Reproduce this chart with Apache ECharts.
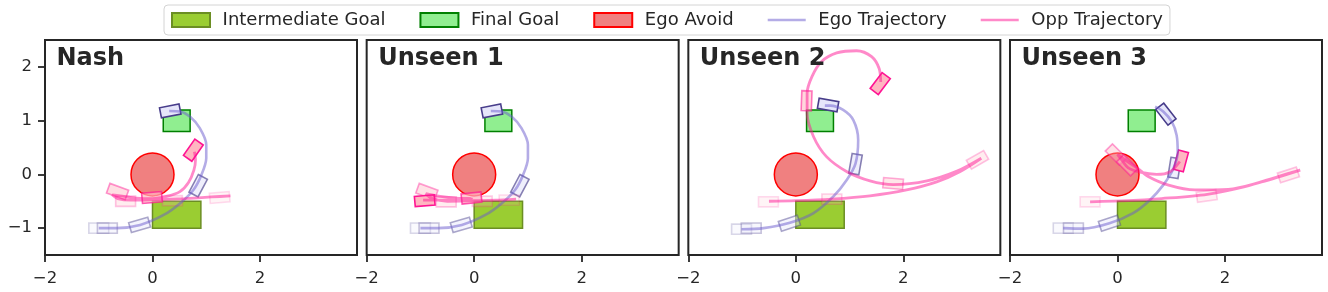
<!DOCTYPE html>
<html>
<head>
<meta charset="utf-8">
<script src="https://cdn.jsdelivr.net/npm/echarts@6/dist/echarts.min.js"></script>
<style>
html,body{margin:0;padding:0;background:#fff;}
#chart{width:1328px;height:292px;}
</style>
</head>
<body>
<div id="chart"></div>
<script>
// ---------------- data ----------------
const panelTitles = ['Nash', 'Unseen 1', 'Unseen 2', 'Unseen 3'];
const xTicks = [-2, 0, 2];
const yTicks = [-1, 0, 1, 2];
const xMin = -2, yMin = -1.5, yMax = 2.5;

// [x0, y0, x1, y1]
const intermediateGoal = [0, -1, 0.9, -0.5];
const finalGoal = [0.2, 0.8, 0.7, 1.2];
// [cx, cy, r]
const egoAvoid = [0, 0, 0.4];

// trajectories [x, y]
const egoPathNash = [[-1.0,-1.0],[-0.67,-1.0],[-0.23,-0.94],[0.2,-0.76],[0.51,-0.54],[0.76,-0.29],[0.91,-0.01],[1.0,0.3],[1.0,0.55],[0.88,0.86],[0.7,1.07],[0.51,1.17],[0.31,1.18]];
const egoPathU1 = [[-1.0,-1.0],[-0.67,-1.0],[-0.23,-0.94],[0.2,-0.76],[0.51,-0.54],[0.76,-0.29],[0.91,-0.01],[1.0,0.3],[1.0,0.55],[0.88,0.86],[0.7,1.07],[0.51,1.17],[0.31,1.18]];
const egoPathU2 = [[-1.01,-1.02],[-0.6,-1.0],[-0.11,-0.9],[0.33,-0.72],[0.7,-0.41],[0.95,-0.1],[1.11,0.2],[1.16,0.64],[1.07,1.01],[0.88,1.2],[0.64,1.28],[0.54,1.28]];
const egoPathU3 = [[-1.01,-1.0],[-0.64,-1.01],[-0.15,-0.91],[0.29,-0.72],[0.6,-0.48],[0.85,-0.2],[1.04,0.11],[1.12,0.42],[1.1,0.73],[1.01,0.98],[0.85,1.17],[0.7,1.26]];

const oppPathNash = [[1.45,-0.40],[1.1,-0.42],[0.6,-0.45],[0.1,-0.47],[-0.4,-0.48],[-0.65,-0.45],[-0.75,-0.38],[-0.6,-0.40],[-0.3,-0.44],[0.0,-0.45],[0.26,-0.41],[0.51,-0.32],[0.67,-0.15],[0.77,0.08],[0.8,0.27],[0.78,0.42]];
const oppPathU1 = [[0.78,-0.46],[0.4,-0.48],[0.0,-0.49],[-0.5,-0.5],[-0.8,-0.44],[-0.9,-0.36],[-0.7,-0.40],[-0.35,-0.44],[-0.05,-0.45],[-0.4,-0.47],[-0.7,-0.48],[-0.95,-0.48]];
const oppPathU2 = [[-0.5,-0.5],[0.0,-0.49],[0.67,-0.46],[1.38,-0.40],[2.06,-0.29],[2.62,-0.14],[3.05,0.05],[3.45,0.3],[3.0,0.06],[2.44,-0.12],[1.81,-0.19],[1.38,-0.12],[0.95,0.05],[0.57,0.33],[0.33,0.7],[0.21,1.14],[0.21,1.51],[0.3,1.82],[0.48,2.1],[0.76,2.26],[1.13,2.3],[1.41,2.19],[1.55,1.97],[1.58,1.72]];
const oppPathU3 = [[-0.51,-0.51],[0.2,-0.49],[0.82,-0.45],[1.67,-0.37],[2.37,-0.23],[2.99,-0.04],[3.4,0.08],[2.68,-0.14],[2.06,-0.28],[1.44,-0.29],[0.95,-0.2],[0.57,-0.04],[0.39,0.1],[0.2,0.23],[0.0,0.37],[0.1,0.24],[0.2,0.12],[0.42,0.04],[0.73,0.0],[0.98,0.05],[1.16,0.24]];

// car snapshots [x, y, headingDeg, alpha]
const egoCarsNash = [[-1.0,-1.0,0,0.2],[-0.84,-1.0,0,0.3],[-0.24,-0.94,16,0.45],[0.85,-0.21,62,0.65],[0.33,1.18,11,1.0]];
const egoCarsU1 = [[-1.0,-1.0,0,0.2],[-0.84,-1.0,0,0.3],[-0.24,-0.94,16,0.45],[0.85,-0.21,62,0.65],[0.33,1.18,11,1.0]];
const egoCarsU2 = [[-1.01,-1.02,0,0.2],[-0.83,-1.0,0,0.3],[-0.12,-0.91,18,0.45],[1.11,0.19,80,0.65],[0.6,1.29,-10,1.0]];
const egoCarsU3 = [[-1.01,-1.0,0,0.2],[-0.82,-1.0,0,0.3],[-0.15,-0.91,18,0.45],[1.06,0.12,81,0.65],[0.9,1.12,128,1.0]];

const oppCarsNash = [[1.25,-0.43,5,0.15],[0.37,-0.49,0,0.2],[-0.5,-0.5,0,0.25],[-0.65,-0.32,-20,0.45],[-0.01,-0.43,5,0.7],[0.76,0.45,55,1.0]];
const oppCarsU1 = [[0.65,-0.48,0,0.15],[0.15,-0.5,0,0.2],[-0.52,-0.51,0,0.25],[-0.88,-0.32,-20,0.4],[-0.05,-0.44,6,0.7],[-0.92,-0.49,5,1.0]];
const oppCarsU2 = [[-0.51,-0.51,0,0.15],[0.67,-0.46,0,0.2],[3.38,0.27,30,0.25],[1.81,-0.17,-5,0.35],[0.2,1.37,88,0.55],[1.57,1.69,53,1.0]];
const oppCarsU3 = [[-0.51,-0.51,0,0.15],[1.66,-0.4,8,0.2],[3.18,-0.01,18,0.25],[-0.03,0.37,-45,0.4],[0.18,0.17,-45,0.5],[1.18,0.25,75,1.0]];

const egoPaths = [egoPathNash, egoPathU1, egoPathU2, egoPathU3];
const oppPaths = [oppPathNash, oppPathU1, oppPathU2, oppPathU3];
const egoCars = [egoCarsNash, egoCarsU1, egoCarsU2, egoCarsU3];
const oppCars = [oppCarsNash, oppCarsU1, oppCarsU2, oppCarsU3];

// ---------------- layout / style ----------------
const FONT = 'DejaVu Sans';
const INK = '#262626';
const gridLefts = [45, 366.67, 688.33, 1010];
const gridTop = 40, gridW = 312, gridH = 215;
const xMax = xMin + gridW / (gridH / (yMax - yMin));
const CAR_L = 0.37, CAR_W = 0.19;
const LINE_ICON = 'path://M0,0H38V2.6H0Z';

const C = {
  inter: {fill: '#9acd32', edge: '#6b8e23'},
  final: {fill: '#90ee90', edge: '#008000'},
  avoid: {fill: '#f08080', edge: '#ff0000'},
  egoLine: 'rgba(106,90,205,0.5)',
  oppLine: 'rgba(255,20,147,0.5)',
  egoCar: {fill: '#e6e6fa', edge: '#483d8b'},
  oppCar: {fill: '#ffb6c1', edge: '#ff1493'}
};

function fmt(v) { return v < 0 ? '\u2212' + Math.abs(v) : String(v); }

function rectRender(col) {
  return function (params, api) {
    const a = api.coord([api.value(0), api.value(3)]);
    const b = api.coord([api.value(2), api.value(1)]);
    return {type: 'rect', shape: {x: a[0], y: a[1], width: b[0] - a[0], height: b[1] - a[1]},
      style: {fill: col.fill, stroke: col.edge, lineWidth: 1.5}};
  };
}
function circleRender(col) {
  return function (params, api) {
    const c = api.coord([api.value(0), api.value(1)]);
    const r = api.size([api.value(2), 0])[0];
    return {type: 'circle', shape: {cx: c[0], cy: c[1], r: r},
      style: {fill: col.fill, stroke: col.edge, lineWidth: 1.5}};
  };
}
function carRender(col) {
  return function (params, api) {
    const cx = api.value(0), cy = api.value(1), ang = api.value(2) * Math.PI / 180, al = api.value(3);
    const dx = Math.cos(ang), dy = Math.sin(ang), hl = CAR_L / 2, hw = CAR_W / 2;
    const pts = [[hl, hw], [hl, -hw], [-hl, -hw], [-hl, hw]].map(function (q) {
      return api.coord([cx + q[0] * dx - q[1] * dy, cy + q[0] * dy + q[1] * dx]);
    });
    return {type: 'polygon', shape: {points: pts},
      style: {fill: col.fill, stroke: col.edge, lineWidth: 1.6, opacity: al}};
  };
}

const grids = [], xAxes = [], yAxes = [], titles = [], series = [];
for (let p = 0; p < 4; p++) {
  grids.push({left: gridLefts[p], top: gridTop, width: gridW, height: gridH, show: true,
    borderColor: INK, borderWidth: 2, backgroundColor: 'transparent', containLabel: false});
  xAxes.push({type: 'value', gridIndex: p, min: xMin, max: xMax, position: 'bottom',
    axisLine: {show: false, onZero: false}, splitLine: {show: false},
    axisTick: {show: true, length: 7, customValues: xTicks, lineStyle: {color: INK, width: 1.8}},
    axisLabel: {show: true, customValues: xTicks, formatter: fmt, fontSize: 16.5, fontFamily: FONT, color: INK, margin: 15}});
  yAxes.push({type: 'value', gridIndex: p, min: yMin, max: yMax, position: 'left',
    axisLine: {show: false, onZero: false}, splitLine: {show: false},
    axisTick: {show: p === 0, length: 7, customValues: yTicks, lineStyle: {color: INK, width: 1.8}},
    axisLabel: {show: p === 0, customValues: yTicks, formatter: fmt, fontSize: 16.5, fontFamily: FONT, color: INK, margin: 13}});
  titles.push({text: panelTitles[p], left: gridLefts[p] + 11.5, top: 47, padding: 0,
    textStyle: {fontSize: 24, fontWeight: 'bold', fontFamily: FONT, color: INK}});

  const ax = {xAxisIndex: p, yAxisIndex: p, silent: true, animation: false};
  series.push(Object.assign({type: 'custom', name: 'Intermediate Goal', z: 1, data: [intermediateGoal],
    encode: {x: [0, 2], y: [1, 3]}, renderItem: rectRender(C.inter),
    itemStyle: {color: C.inter.fill, borderColor: C.inter.edge, borderWidth: 1.5}}, ax));
  series.push(Object.assign({type: 'custom', name: 'Final Goal', z: 1, data: [finalGoal],
    encode: {x: [0, 2], y: [1, 3]}, renderItem: rectRender(C.final),
    itemStyle: {color: C.final.fill, borderColor: C.final.edge, borderWidth: 1.5}}, ax));
  series.push(Object.assign({type: 'custom', name: 'Ego Avoid', z: 1, data: [egoAvoid],
    encode: {x: 0, y: 1}, renderItem: circleRender(C.avoid),
    itemStyle: {color: C.avoid.fill, borderColor: C.avoid.edge, borderWidth: 1.5}}, ax));
  series.push(Object.assign({type: 'custom', name: 'Ego Car', z: 2, data: egoCars[p],
    encode: {x: 0, y: 1}, renderItem: carRender(C.egoCar)}, ax));
  series.push(Object.assign({type: 'custom', name: 'Opp Car', z: 2, data: oppCars[p],
    encode: {x: 0, y: 1}, renderItem: carRender(C.oppCar)}, ax));
  series.push(Object.assign({type: 'line', name: 'Ego Trajectory', z: 3, data: egoPaths[p],
    symbol: 'none', showSymbol: false, smooth: 0.3, lineStyle: {color: C.egoLine, width: 2.6},
    itemStyle: {color: C.egoLine, borderWidth: 0}}, ax));
  series.push(Object.assign({type: 'line', name: 'Opp Trajectory', z: 3, data: oppPaths[p],
    symbol: 'none', showSymbol: false, smooth: 0.3, lineStyle: {color: C.oppLine, width: 2.8},
    itemStyle: {color: C.oppLine, borderWidth: 0}}, ax));
}

const chart = echarts.init(document.getElementById('chart'), null, {renderer: 'canvas'});
chart.setOption({
  animation: false,
  backgroundColor: '#ffffff',
  title: titles,
  legend: {
    left: 164, top: 5, padding: [6, 7, 6, 7], itemWidth: 38, itemHeight: 14, itemGap: 34,
    borderColor: '#d4d4d4', borderWidth: 1, borderRadius: 4, backgroundColor: '#ffffff',
    textStyle: {fontSize: 18, fontFamily: FONT, color: INK, padding: [0, 0, 0, 7.6]},
    data: [
      {name: 'Intermediate Goal', icon: 'rect'},
      {name: 'Final Goal', icon: 'rect'},
      {name: 'Ego Avoid', icon: 'rect'},
      {name: 'Ego Trajectory', icon: LINE_ICON, itemStyle: {color: C.egoLine, borderWidth: 0}},
      {name: 'Opp Trajectory', icon: LINE_ICON, itemStyle: {color: C.oppLine, borderWidth: 0}}
    ]
  },
  grid: grids,
  xAxis: xAxes,
  yAxis: yAxes,
  series: series
});
</script>
</body>
</html>
